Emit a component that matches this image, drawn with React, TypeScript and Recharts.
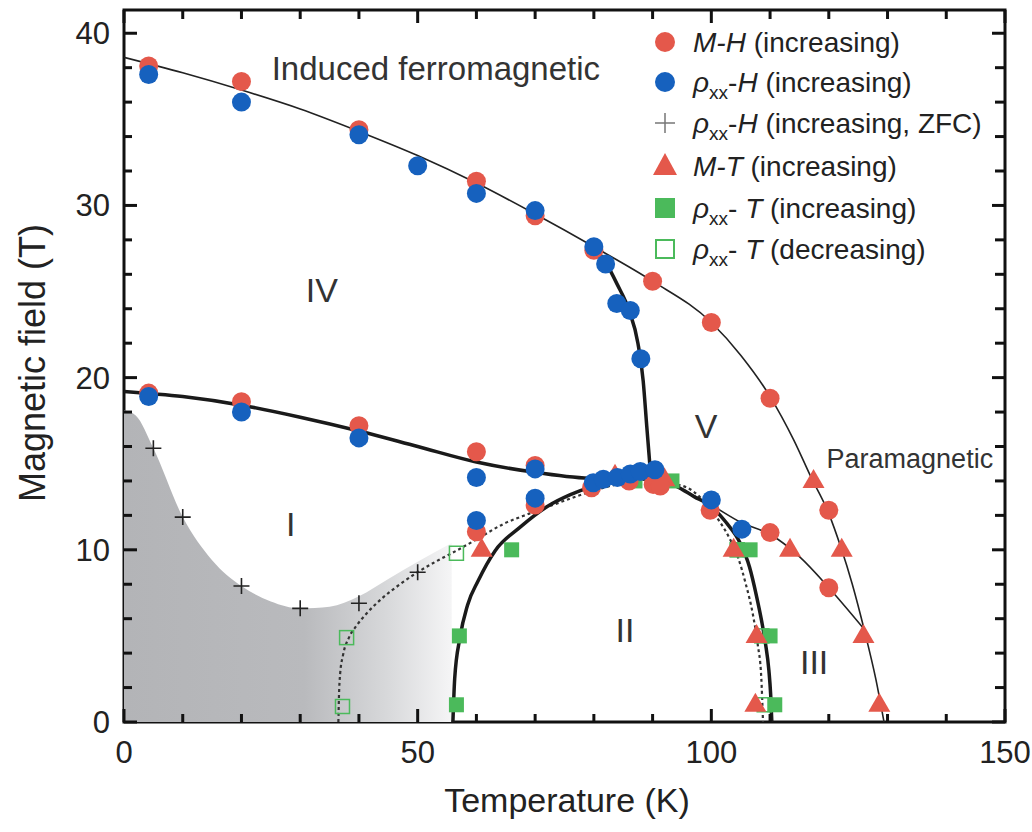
import React from 'react';
import { ComposedChart, XAxis, YAxis, Line, Area, Scatter } from 'recharts';

type Pt = [number, number]; // [temperature K, field T]

// ---- measured points ----
const mhIncreasing: Pt[] = [
  [4.2, 38.1], [20, 37.2], [40, 34.4], [60, 31.4], [70, 29.4], [80, 27.4], [90, 25.6],
  [100, 23.2], [110, 18.8], [120, 12.3], [4.2, 19.1], [20, 18.6], [40, 17.2], [60, 15.7],
  [70, 14.9], [60, 11.05], [70, 12.6], [79.6, 13.6], [86, 14.0], [90.1, 13.8], [91.3, 13.7],
  [99.8, 12.3], [110, 11.0], [120, 7.8],
];
const rhoHIncreasing: Pt[] = [
  [4.2, 37.6], [20, 36.0], [40, 34.1], [50, 32.3], [60, 30.7], [70, 29.7], [80, 27.6],
  [82, 26.6], [83.9, 24.3], [86.2, 23.9], [88, 21.1], [4.2, 18.9], [20, 18.0], [40, 16.5],
  [60, 14.2], [60, 11.7], [70, 14.7], [70, 13.0], [79.9, 13.9], [81.6, 14.1], [84, 14.2],
  [86.2, 14.4], [87.9, 14.55], [90.4, 14.65], [100, 12.9], [105.2, 11.2],
];
const rhoHZfc: Pt[] = [[5, 15.9], [10, 11.9], [20, 7.9], [30, 6.6], [40, 6.9], [50, 8.7]];
const mtIncreasing: Pt[] = [
  [60.9, 10], [83.6, 14.3], [92, 14.1], [103.8, 10], [107.7, 5], [107.5, 1],
  [113.4, 10], [117.4, 14], [122.2, 10], [125.9, 5], [128.6, 1],
];
const rhoTIncreasing: Pt[] = [
  [56.6, 1], [57.1, 5], [66, 10], [87, 14], [93.3, 14], [104.4, 10], [106.6, 10], [110, 5], [110.8, 1],
];
const rhoTDecreasing: Pt[] = [[37.2, 0.9], [37.9, 4.9], [56.6, 9.8], [104.4, 10], [108.6, 5], [109, 1]];

// ---- phase boundaries ----
const upperBoundary: Pt[] = [
  [0, 38.6], [10, 37.7], [20, 36.7], [30, 35.6], [40, 34.3], [50, 32.9], [60, 31.3], [70, 29.5],
  [80, 27.6], [90, 25.6], [100, 23.2], [105, 21.3], [110, 18.9], [114, 16.4], [117, 14.2],
  [120, 12.1], [122, 10.2], [124, 8.0], [126, 5.4], [128, 2.5], [129.4, 0],
];
const lowerBoundary: Pt[] = [
  [0, 19.2], [10, 18.9], [20, 18.4], [30, 17.7], [40, 16.9], [50, 16.0], [60, 15.1],
  [70, 14.5], [80, 14.15], [89.7, 14.2],
];
const verticalBoundary: Pt[] = [
  [80, 27.6], [82, 26.7], [84, 25.4], [86, 23.9], [87.5, 22], [88.4, 19.8], [89, 17.2], [89.4, 15.5], [89.7, 14.2],
];
const paraBoundary: Pt[] = [
  [89.7, 14.2], [95, 13.5], [100, 12.6], [105, 11.6], [110, 10.9], [115, 9.6], [120, 7.8], [126, 5.4],
];
const domeIncreasing: Pt[] = [
  [56, 0], [56.3, 2.5], [57.2, 4.9], [58.5, 6.8], [60.3, 8.2], [63.2, 9.95], [67.4, 11.3], [72, 12.5],
  [76, 13.2], [80, 13.7], [84.5, 14.05], [89.7, 14.2], [94, 13.7], [97, 13.1], [100, 12.5],
  [102.5, 11.6], [104.9, 10.4], [106.5, 9.0], [107.7, 7.3], [108.6, 5.8], [109.2, 4.6],
  [109.8, 3.0], [110.1, 1.6], [110.3, 0],
];
const domeDecreasing: Pt[] = [
  [36.5, 0], [36.6, 1.5], [36.8, 2.8], [37.3, 3.9], [38.3, 4.9], [39.6, 5.6], [41.3, 6.3], [44, 7.2],
  [47, 8.0], [50, 8.7], [53, 9.3], [56.6, 9.95], [60, 10.6], [64.6, 11.5], [69, 12.1], [73, 12.6],
  [77, 13.1], [81.6, 13.6], [86, 13.95], [90, 14.1], [93, 13.9], [96.9, 13.4], [99.3, 12.6],
  [101.5, 11.6], [103.2, 10.6], [104.6, 9.5], [105.8, 8.1], [107.1, 6.2], [107.9, 4.5], [108.5, 2.6], [108.8, 0],
];
const glassyRegion: Pt[] = [
  [0, 18.1], [2, 17.8], [5, 15.9], [10, 11.9], [15, 9.4], [20, 7.9], [25, 7.0], [30, 6.6],
  [35, 6.7], [40, 7.3], [45, 8.3], [50, 9.3], [55.8, 10.4],
];

const regionLabels = [
  { t: 53.1, h: 37.95, text: 'Induced ferromagnetic', size: 33 },
  { t: 33.7, h: 25.1, text: 'IV', size: 34 },
  { t: 99.1, h: 17.2, text: 'V', size: 34 },
  { t: 28.4, h: 11.5, text: 'I', size: 34 },
  { t: 85.3, h: 5.35, text: 'II', size: 34 },
  { t: 117.5, h: 3.5, text: 'III', size: 34 },
  { t: 133.8, h: 15.25, text: 'Paramagnetic', size: 27 },
];

const xTicks = [0, 10, 20, 30, 40, 50, 60, 70, 80, 90, 100, 110, 120, 130, 140, 150];
const yTicks = [0, 2, 4, 6, 8, 10, 12, 14, 16, 18, 20, 22, 24, 26, 28, 30, 32, 34, 36, 38, 40];

const RED = '#e4584b';
const BLUE = '#1661be';
const GREEN = '#4bba5b';
const INK = '#111';
const FONT = '"Liberation Sans", Arial, Helvetica, sans-serif';

const rows = (pts: Pt[]) => pts.map(([t, h]) => ({ t, h }));

const dot = (fill: string) => (p: any) => <circle cx={p.cx} cy={p.cy} r={9.5} fill={fill} />;
const filledSquare = (p: any) => <rect x={p.cx - 7.5} y={p.cy - 7.5} width={15} height={15} fill={GREEN} />;
const openSquare = (p: any) => (
  <rect x={p.cx - 7} y={p.cy - 7} width={14} height={14} fill="none" stroke={GREEN} strokeWidth={1.5} />
);
const triangle = (p: any) => (
  <polygon points={`${p.cx},${p.cy - 12} ${p.cx - 11},${p.cy + 7} ${p.cx + 11},${p.cy + 7}`} fill={RED} />
);
const plus = (p: any) => (
  <path d={`M${p.cx - 8},${p.cy}H${p.cx + 8}M${p.cx},${p.cy - 8}V${p.cy + 8}`} stroke="#222" strokeWidth={1.6} />
);
const regionText = (p: any) => (
  <text x={p.cx} y={p.cy} textAnchor="middle" dominantBaseline="central" fontSize={p.payload.size} fill="#333">
    {p.payload.text}
  </text>
);

// axes are 1px thick strips; the tick callbacks draw inward ticks themselves
const PLOT_TOP = 10;
const PLOT_BOTTOM = 722;
const PLOT_LEFT = 124;
const PLOT_RIGHT = 1005;

const BottomTick = (p: any) => {
  const v = p.payload.value;
  const major = v % 50 === 0;
  return (
    <g>
      <line x1={p.x} y1={PLOT_BOTTOM} x2={p.x} y2={PLOT_BOTTOM - (major ? 13 : 8)} stroke={INK} strokeWidth={3} />
      {major && (
        <text x={p.x} y={PLOT_BOTTOM + 41} textAnchor="middle" fontSize={31} fill="#222">{v}</text>
      )}
    </g>
  );
};
const TopTick = (p: any) => {
  const major = p.payload.value % 50 === 0;
  return <line x1={p.x} y1={PLOT_TOP} x2={p.x} y2={PLOT_TOP + (major ? 13 : 9)} stroke={INK} strokeWidth={3} />;
};
const LeftTick = (p: any) => {
  const v = p.payload.value;
  const major = v % 10 === 0;
  return (
    <g>
      <line x1={PLOT_LEFT} y1={p.y} x2={PLOT_LEFT + (major ? 13 : 8)} y2={p.y} stroke={INK} strokeWidth={3} />
      {major && (
        <text x={PLOT_LEFT - 14} y={p.y + 11} textAnchor="end" fontSize={31} fill="#222">{v}</text>
      )}
    </g>
  );
};
const RightTick = (p: any) => {
  const major = p.payload.value % 10 === 0;
  return <line x1={PLOT_RIGHT} y1={p.y} x2={PLOT_RIGHT - (major ? 13 : 10)} y2={p.y} stroke={INK} strokeWidth={3} />;
};

const Sub = ({ children }: { children: string }) => (
  <>
    <tspan fontSize={19} dy={7}>{children}</tspan>
    <tspan dy={-7}>-</tspan>
  </>
);

const Legend = () => {
  const mx = 665;
  const tx = 693;
  const ys = [42, 82, 123, 166, 208, 249];
  return (
    <g fontSize={28} fill="#222">
      <circle cx={mx} cy={ys[0]} r={10} fill={RED} />
      <text x={tx} y={ys[0] + 10}><tspan fontStyle="italic">M-H</tspan> (increasing)</text>

      <circle cx={mx} cy={ys[1]} r={10} fill={BLUE} />
      <text x={tx} y={ys[1] + 10}>
        <tspan fontStyle="italic">ρ</tspan><Sub>xx</Sub><tspan fontStyle="italic">H</tspan> (increasing)
      </text>

      <path d={`M${mx - 10},${ys[2]}H${mx + 10}M${mx},${ys[2] - 10}V${ys[2] + 10}`} stroke="#777" strokeWidth={1.5} />
      <text x={tx} y={ys[2] + 10}>
        <tspan fontStyle="italic">ρ</tspan><Sub>xx</Sub><tspan fontStyle="italic">H</tspan> (increasing, ZFC)
      </text>

      <polygon points={`${mx},${ys[3] - 13} ${mx - 12},${ys[3] + 9} ${mx + 12},${ys[3] + 9}`} fill={RED} />
      <text x={tx} y={ys[3] + 10}><tspan fontStyle="italic">M-T</tspan> (increasing)</text>

      <rect x={mx - 10} y={ys[4] - 10} width={20} height={20} fill={GREEN} />
      <text x={tx} y={ys[4] + 10}>
        <tspan fontStyle="italic">ρ</tspan><Sub>xx</Sub><tspan fontStyle="italic"> T</tspan> (increasing)
      </text>

      <rect x={mx - 9} y={ys[5] - 9} width={18} height={18} fill="none" stroke={GREEN} strokeWidth={2} />
      <text x={tx} y={ys[5] + 10}>
        <tspan fontStyle="italic">ρ</tspan><Sub>xx</Sub><tspan fontStyle="italic"> T</tspan> (decreasing)
      </text>
    </g>
  );
};

const Frame = () => (
  <rect x={PLOT_LEFT} y={PLOT_TOP} width={PLOT_RIGHT - PLOT_LEFT} height={PLOT_BOTTOM - PLOT_TOP}
    fill="none" stroke={INK} strokeWidth={3} />
);

export default function App() {
  return (
    <div style={{ position: 'absolute', left: 0, top: 0, background: '#fff' }}>
      <ComposedChart
        width={1032}
        height={832}
        margin={{ top: PLOT_TOP - 1, right: 1032 - PLOT_RIGHT - 1, bottom: 832 - PLOT_BOTTOM - 1, left: PLOT_LEFT - 1 }}
        style={{ fontFamily: FONT }}
      >
        <defs>
          <linearGradient id="glassFade" x1="0" y1="0" x2="1" y2="0">
            <stop offset="0" stopColor="#b3b4b7" />
            <stop offset="0.55" stopColor="#b9babd" />
            <stop offset="0.8" stopColor="#d7d8da" />
            <stop offset="1" stopColor="#f5f5f6" />
          </linearGradient>
        </defs>

        <Area data={rows(glassyRegion)} dataKey="h" type="monotone" stroke="none" fill="url(#glassFade)"
          fillOpacity={1} isAnimationActive={false} activeDot={false} />

        <XAxis dataKey="t" type="number" domain={[0, 150]} ticks={xTicks} interval={0} height={1}
          tickSize={0} tickMargin={0} tickLine={false} tick={<BottomTick />} axisLine={false} allowDataOverflow />
        <XAxis xAxisId="top" orientation="top" dataKey="t" type="number" domain={[0, 150]} ticks={xTicks}
          interval={0} height={1} tickSize={0} tickMargin={0} tickLine={false} tick={<TopTick />} axisLine={false} allowDataOverflow />
        <YAxis dataKey="h" type="number" domain={[0, 41.35]} ticks={yTicks} interval={0} width={1}
          tickSize={0} tickMargin={0} tickLine={false} tick={<LeftTick />} axisLine={false} allowDataOverflow />
        <YAxis yAxisId="right" orientation="right" dataKey="h" type="number" domain={[0, 41.35]} ticks={yTicks}
          interval={0} width={1} tickSize={0} tickMargin={0} tickLine={false} tick={<RightTick />} axisLine={false} allowDataOverflow />

        <Scatter data={rows(rhoTDecreasing)} shape={openSquare} isAnimationActive={false} />
        <Scatter data={rows(rhoTIncreasing)} shape={filledSquare} isAnimationActive={false} />
        <Scatter data={rows(mtIncreasing)} shape={triangle} isAnimationActive={false} />
        <Scatter data={rows(mhIncreasing)} shape={dot(RED)} isAnimationActive={false} />
        <Scatter data={rows(rhoHIncreasing)} shape={dot(BLUE)} isAnimationActive={false} />
        <Scatter data={rows(rhoHZfc)} shape={plus} isAnimationActive={false} />

        <Line data={rows(domeDecreasing)} dataKey="h" type="monotone" stroke="#333" strokeWidth={2.2}
          strokeDasharray="3 3" dot={false} activeDot={false} isAnimationActive={false} />
        <Line data={rows(upperBoundary)} dataKey="h" type="monotone" stroke="#222" strokeWidth={1.6}
          dot={false} activeDot={false} isAnimationActive={false} />
        <Line data={rows(paraBoundary)} dataKey="h" type="monotone" stroke="#222" strokeWidth={1.6}
          dot={false} activeDot={false} isAnimationActive={false} />
        <Line data={rows(lowerBoundary)} dataKey="h" type="monotone" stroke="#1a1a1a" strokeWidth={3.5}
          dot={false} activeDot={false} isAnimationActive={false} />
        <Line data={rows(verticalBoundary)} dataKey="h" type="monotone" stroke="#1a1a1a" strokeWidth={3.5}
          dot={false} activeDot={false} isAnimationActive={false} />
        <Line data={rows(domeIncreasing)} dataKey="h" type="monotone" stroke="#1a1a1a" strokeWidth={3.5}
          dot={false} activeDot={false} isAnimationActive={false} />

        <Scatter data={regionLabels} dataKey="h" shape={regionText} isAnimationActive={false} />

        <Frame />
        <Legend />
        <text x={567} y={812} textAnchor="middle" fontSize={34} fill="#222">Temperature (K)</text>
        <text x={32} y={363} textAnchor="middle" dominantBaseline="central" fontSize={36} fill="#222"
          transform="rotate(-90 32 363)">Magnetic field (T)</text>
      </ComposedChart>
    </div>
  );
}
